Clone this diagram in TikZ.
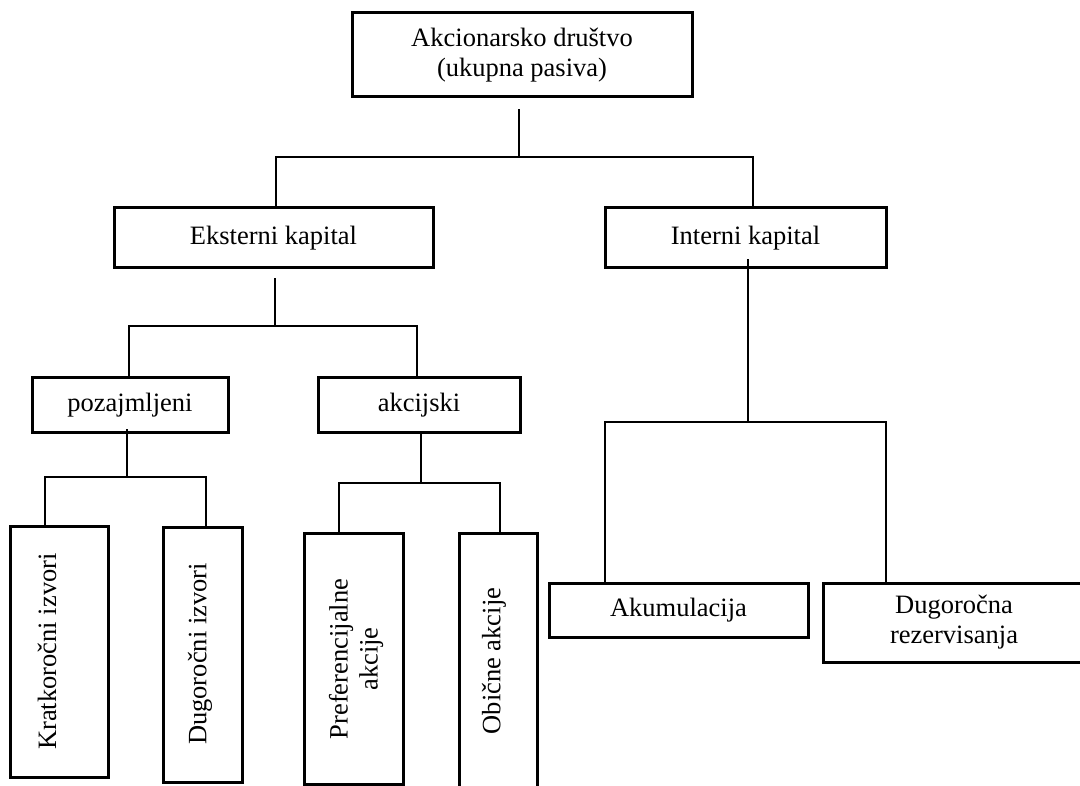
\documentclass[tikz,border=0pt]{standalone}
\usepackage{fontspec}
\setmainfont{Liberation Serif}
\begin{document}
\begin{tikzpicture}[x=1pt,y=-1pt,
  box/.style={draw,line width=3pt,inner sep=0pt,align=center,
              font=\fontsize{26.5}{30}\selectfont},
  vtext/.style={rotate=90,inner sep=0pt,align=center,
              font=\fontsize{26.5}{30}\selectfont},
  link/.style={line width=2pt}]
\useasboundingbox (0,0) rectangle (1080,786);
\clip (0,0) rectangle (1080,786);

% boxes
\node[box,minimum width=340pt,minimum height=84pt] (top) at (522,55)
  {Akcionarsko društvo\\(ukupna pasiva)};
\node[box,minimum width=319pt,minimum height=60pt] (eks) at (273.5,238) {Eksterni kapital};
\node[box,minimum width=281pt,minimum height=60pt] (int) at (745.5,238) {Interni kapital};
\node[box,minimum width=196pt,minimum height=55pt] (poz) at (130,405.5) {pozajmljeni};
\node[box,minimum width=202pt,minimum height=55pt] (akc) at (419,405.5) {akcijski};
\node[box,minimum width=98pt,minimum height=251pt] (krat) at (59,651.5) {};
\node[box,minimum width=79pt,minimum height=255pt] (dugi) at (202.5,654.5) {};
\node[box,minimum width=99pt,minimum height=251pt] (pref) at (353.5,658.5) {};
\node[box,minimum width=78pt,minimum height=267pt] (obi) at (498,666.5) {};
\node[box,minimum width=259pt,minimum height=54pt] (akum) at (678.5,610) {Akumulacija};
\node[box,minimum width=262pt,minimum height=79pt] (dugr) at (954,622.5)
  {Dugoročna\\rezervisanja};

% rotated labels of the tall boxes
\node[vtext] (kratT) at (47,651.5) {Kratkoročni izvori};
\node[vtext] (dugiT) at (200,654) {Dugoročni izvori};
\node[vtext] (prefT) at (356,659) {Preferencijalne\\akcije};
\node[vtext] (obiT) at (494,661) {Obične akcije};

% junction bars
\coordinate (b1m) at (519,157); \coordinate (b1l) at (276,157); \coordinate (b1r) at (753,157);
\coordinate (b2m) at (275,326); \coordinate (b2l) at (129,326); \coordinate (b2r) at (417,326);
\coordinate (b3m) at (748,422); \coordinate (b3l) at (605,422); \coordinate (b3r) at (886,422);
\coordinate (b4m) at (127,477); \coordinate (b4l) at (45,477);  \coordinate (b4r) at (206,477);
\coordinate (b5m) at (421,483); \coordinate (b5l) at (339,483); \coordinate (b5r) at (500,483);

% connectors
\draw[link] ([yshift=-11pt]top.south -| b1m) -- (b1m);
\draw[link] (eks.north -| b1l) -- (b1l) -- (b1r) -- (int.north -| b1r);

\draw[link] ([yshift=-9pt]eks.south -| b2m) -- (b2m);
\draw[link] (poz.north -| b2l) -- (b2l) -- (b2r) -- (akc.north -| b2r);

\draw[link] ([yshift=10pt]int.south -| b3m) -- (b3m);
\draw[link] (akum.north -| b3l) -- (b3l) -- (b3r) -- (dugr.north -| b3r);

\draw[link] ([yshift=5pt]poz.south -| b4m) -- (b4m);
\draw[link] (krat.north -| b4l) -- (b4l) -- (b4r) -- (dugi.north -| b4r);

\draw[link] (akc.south -| b5m) -- (b5m);
\draw[link] (pref.north -| b5l) -- (b5l) -- (b5r) -- (obi.north -| b5r);
\end{tikzpicture}
\end{document}
